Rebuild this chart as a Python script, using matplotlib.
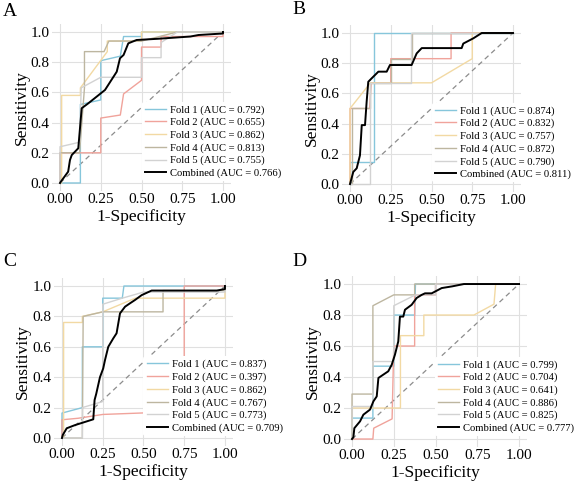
import matplotlib
matplotlib.use("Agg")
import matplotlib.pyplot as plt

plt.rcParams['font.family'] = ['Liberation Serif', 'DejaVu Serif']

# ROC points: (fpr list, tpr list)
# ---- panel A
A_F1 = ([0, 0.125, 0.125, 0.25, 0.25, 0.37, 0.39, 0.5, 0.5, 1],
        [0, 0, 0.52, 0.55, 0.81, 0.84, 0.97, 0.97, 1, 1])
A_F2 = ([0, 0, 0.25, 0.25, 0.37, 0.39, 0.5, 0.5, 0.62, 0.62, 1, 1],
        [0, 0.2, 0.2, 0.43, 0.45, 0.59, 0.68, 0.9, 0.9, 0.97, 0.97, 1])
A_F3 = ([0, 0.01, 0.01, 0.125, 0.125, 0.29, 0.29, 0.5, 0.5, 1],
        [0, 0, 0.58, 0.58, 0.63, 0.87, 0.94, 0.94, 1, 1])
A_F4 = ([0, 0, 0.12, 0.15, 0.15, 0.27, 0.3, 0.5, 0.72, 1],
        [0, 0.2, 0.2, 0.63, 0.87, 0.87, 0.94, 0.94, 1, 1])
A_F5 = ([0, 0, 0.12, 0.13, 0.25, 0.5, 0.5, 0.62, 0.62, 0.72, 1],
        [0, 0.24, 0.27, 0.63, 0.70, 0.70, 0.83, 0.83, 0.93, 1, 1])
A_ALL = ([0, 0.006, 0.05, 0.061, 0.072, 0.112, 0.133, 0.174, 0.276, 0.348, 0.368,
          0.39, 0.419, 0.47, 0.6, 0.8, 0.85, 1, 1],
         [0, 0.01, 0.075, 0.152, 0.185, 0.23, 0.495, 0.528, 0.616, 0.737, 0.826,
          0.848, 0.925, 0.947, 0.955, 0.97, 0.98, 0.99, 1])
A_AUC = ['0.792', '0.655', '0.862', '0.813', '0.755', '0.766']

# ---- panel B
B_F1 = ([0, 0, 0.15, 0.15, 1], [0, 0.143, 0.143, 1, 1])
B_F2 = ([0, 0, 0.12, 0.13, 0.25, 0.25, 0.62, 0.62, 1],
        [0, 0.5, 0.5, 0.67, 0.67, 0.83, 0.83, 1, 1])
B_F3 = ([0, 0, 0.125, 0.5, 0.75, 0.75, 1], [0, 0.5, 0.67, 0.67, 0.83, 1, 1])
B_F4 = ([0, 0.01, 0.01, 0.125, 0.125, 0.25, 0.25, 0.38, 0.38, 1],
        [0, 0, 0.5, 0.5, 0.67, 0.67, 0.83, 0.83, 1, 1])
B_F5 = ([0, 0.125, 0.125, 0.375, 0.375, 1], [0, 0, 0.67, 0.67, 1, 1])
B_ALL = ([0, 0.02, 0.041, 0.061, 0.072, 0.092, 0.102, 0.112, 0.133, 0.174, 0.225,
          0.245, 0.378, 0.409, 0.44, 0.685, 0.695, 0.757, 0.808, 1],
         [0, 0.08, 0.104, 0.19, 0.39, 0.39, 0.545, 0.677, 0.70, 0.744, 0.744,
          0.788, 0.788, 0.865, 0.9, 0.9, 0.93, 0.965, 1, 1])
B_AUC = ['0.874', '0.832', '0.757', '0.872', '0.790', '0.811']

# ---- panel C
C_F1 = ([0, 0, 0.125, 0.125, 0.25, 0.25, 0.37, 0.38, 1],
        [0, 0.164, 0.2, 0.6, 0.6, 0.92, 0.92, 1, 1])
C_F2 = ([0, 0, 0.1, 0.25, 0.5, 0.75, 0.75, 1],
        [0, 0.12, 0.13, 0.155, 0.165, 0.165, 1, 1])
C_F3 = ([0, 0.01, 0.01, 0.125, 0.125, 0.25, 0.45, 1, 1],
        [0, 0, 0.76, 0.76, 0.8, 0.83, 0.92, 0.92, 1])
C_F4 = ([0, 0.125, 0.13, 0.25, 0.62, 0.62, 1, 1],
        [0, 0, 0.8, 0.83, 0.83, 0.97, 0.97, 1])
C_F5 = ([0, 0.125, 0.125, 0.25, 0.25, 0.37, 0.5, 1, 1],
        [0, 0, 0.2, 0.24, 0.88, 0.92, 0.96, 0.96, 1])
C_ALL = ([0, 0.005, 0.029, 0.08, 0.192, 0.2, 0.21, 0.233, 0.253, 0.264, 0.284,
          0.315, 0.335, 0.356, 0.387, 0.417, 0.448, 0.489, 0.55, 0.95, 1, 1],
         [0, 0.02, 0.064, 0.085, 0.123, 0.25, 0.29, 0.40, 0.458, 0.513, 0.60,
          0.656, 0.689, 0.82, 0.864, 0.886, 0.908, 0.94, 0.97, 0.97, 0.98, 1])
C_AUC = ['0.837', '0.397', '0.862', '0.767', '0.773', '0.709']

# ---- panel D
D_F1 = ([0, 0, 0.125, 0.125, 0.25, 0.25, 0.375, 0.38, 1],
        [0, 0.135, 0.135, 0.47, 0.47, 0.8, 0.8, 1, 1])
D_F2 = ([0, 0.125, 0.13, 0.24, 0.25, 0.375, 0.375, 0.5, 0.5, 1],
        [0, 0, 0.07, 0.13, 0.6, 0.6, 0.93, 0.93, 1, 1])
D_F3 = ([0, 0, 0.2, 0.29, 0.29, 0.43, 0.43, 0.73, 0.85, 0.86, 1],
        [0, 0.2, 0.2, 0.2, 0.667, 0.667, 0.8, 0.8, 0.87, 1, 1])
D_F4 = ([0, 0, 0.125, 0.125, 0.25, 0.375, 0.375, 1],
        [0, 0.29, 0.29, 0.86, 0.93, 0.93, 1, 1])
D_F5 = ([0, 0, 0.125, 0.125, 0.25, 0.25, 0.38, 0.5, 0.5, 1],
        [0, 0.21, 0.21, 0.5, 0.5, 0.86, 0.93, 0.93, 1, 1])
D_ALL = ([0, 0.008, 0.014, 0.048, 0.068, 0.108, 0.128, 0.148, 0.158, 0.217, 0.238,
          0.257, 0.277, 0.287, 0.307, 0.317, 0.357, 0.387, 0.417, 0.437, 0.477,
          0.537, 0.6, 0.67, 1],
         [0, 0.011, 0.07, 0.114, 0.157, 0.19, 0.243, 0.275, 0.394, 0.437, 0.48,
          0.544, 0.63, 0.79, 0.79, 0.834, 0.866, 0.91, 0.93, 0.94, 0.94,
          0.974, 0.985, 1.0, 1])
D_AUC = ['0.799', '0.704', '0.641', '0.886', '0.825', '0.777']

fold_colors = ['#86C6DB', '#F0A39B', '#F2D9A3', '#BDB6A0', '#D2D2D2', 'black']
names = ['Fold 1', 'Fold 2', 'Fold 3', 'Fold 4', 'Fold 5', 'Combined']

panels = [
    ('A', [A_F1, A_F2, A_F3, A_F4, A_F5, A_ALL], A_AUC, [0.0899, 0.6047, 0.3107, 0.3446], (3, 3), 0.5),
    ('B', [B_F1, B_F2, B_F3, B_F4, B_F5, B_ALL], B_AUC, [0.5925, 0.6026, 0.3107, 0.3446], (292, 1), 0.5),
    ('C', [C_F1, C_F2, C_F3, C_F4, C_F5, C_ALL], C_AUC, [0.0933, 0.0755, 0.3107, 0.3469], (3, 253), 0.5),
    ('D', [D_F1, D_F2, D_F3, D_F4, D_F5, D_ALL], D_AUC, [0.5956, 0.0731, 0.3184, 0.3537], (292, 253), 0.495),
]

W, H = 577, 482
fig = plt.figure(figsize=(W / 100, H / 100), dpi=100)

for letter, curves, aucs, rect, lpos, legx in panels:
    ax = fig.add_axes(rect)
    ax.set_xlim(-0.05, 1.05)
    ax.set_ylim(-0.05, 1.05)
    ax.plot([0, 1], [0, 1], ls=(0, (4, 3)), color='#8c8c8c', lw=0.9, zorder=2)
    for i, (fpr, tpr) in enumerate(curves):
        lw = 1.4 if i == 5 else 1.0
        ax.plot(fpr, tpr, color=fold_colors[i], lw=lw, zorder=3 + i,
                label=f'{names[i]} (AUC = {aucs[i]})')

    ax.set_xticks([0, 0.25, 0.5, 0.75, 1.0])
    ax.set_xticklabels(['0.00', '0.25', '0.50', '0.75', '1.00'])
    ax.set_yticks([0, 0.2, 0.4, 0.6, 0.8, 1.0])
    ax.set_yticklabels(['0.0', '0.2', '0.4', '0.6', '0.8', '1.0'])
    ax.tick_params(length=0, labelsize=11, pad=1.5)
    ax.grid(color='#e0e0e0', lw=0.8, zorder=0)
    ax.set_axisbelow(True)
    for s in ax.spines.values():
        s.set_visible(False)
    ax.set_xlabel('1-Specificity', fontsize=12.5, labelpad=2.5)
    ax.set_ylabel('Sensitivity', fontsize=12.5, labelpad=1)

    leg = ax.legend(loc='center left', bbox_to_anchor=(legx, 0.295), fontsize=7.7,
                    frameon=True, facecolor='white', edgecolor='none', framealpha=1,
                    handlelength=2.0, handletextpad=0.35, labelspacing=0.28,
                    borderpad=0.3, borderaxespad=0)
    leg.set_zorder(20)

    fig.text(lpos[0] / W, 1 - lpos[1] / H, letter, fontsize=14,
             ha='left', va='top')

fig.savefig('out.png', dpi=100, facecolor='white')
